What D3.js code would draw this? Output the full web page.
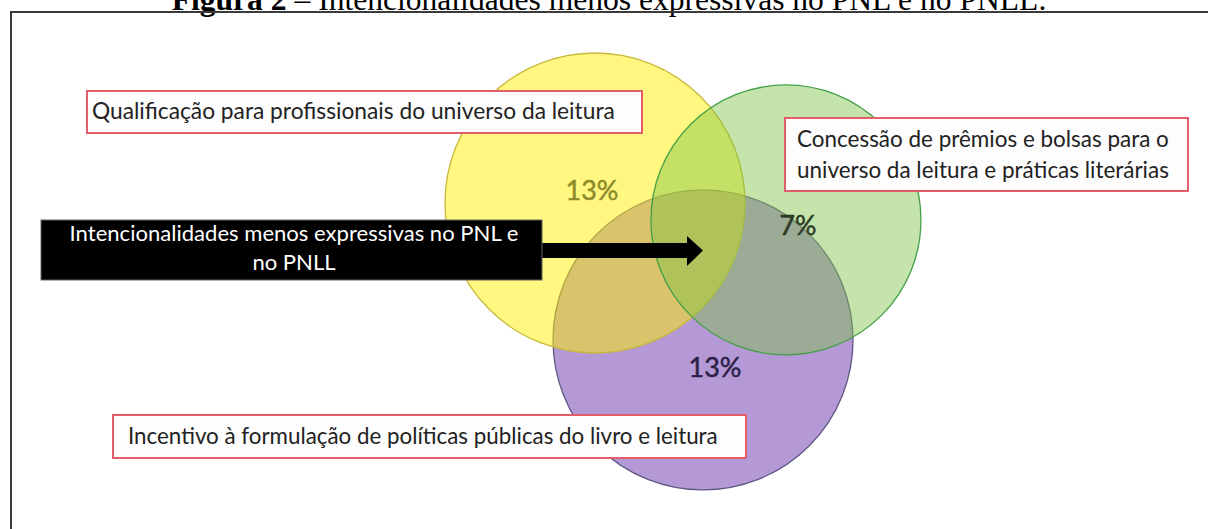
<!DOCTYPE html>
<html>
<head>
<meta charset="utf-8">
<script src="https://cdn.jsdelivr.net/npm/d3@7"></script>
<style>
  body { margin: 0; background: #fff; }
  svg { display: block; }
</style>
</head>
<body>
<svg id="chart"></svg>
<script>
// ---- data ----
var titleParts = ["Figura 2", " – Intencionalidades menos expressivas no PNL e no PNLL."];
var setNames = ["Qualificação para profissionais do universo da leitura",
                "Concessão de prêmios e bolsas para o universo da leitura e práticas literárias",
                "Incentivo à formulação de políticas públicas do livro e leitura"];
var setLines = [["Qualificação para profissionais do universo da leitura"],
                ["Concessão de prêmios e bolsas para o", "universo da leitura e práticas literárias"],
                ["Incentivo à formulação de políticas públicas do livro e leitura"]];
var shares = [13, 7, 13];
var arrowLines = ["Intencionalidades menos expressivas no PNL e", "no PNLL"];

// ---- layout (venn units, 1 = radius of the first circle) ----
var width = 1208, height = 529;
var circles = [
  {cx: 0,    cy: 0,    r: 1,   fill: "#fff000", op: 0.5,  stroke: "#c8b93c", labelDx: -0.02, labelDy: -0.02, labelColor: "#8e8b2c"},
  {cx: 1.273, cy: 0.113, r: 0.9, fill: "#7cc446", op: 0.45, stroke: "#43a047", labelDx: 0.08, labelDy: 0.1, labelColor: "#2c3a24"},
  {cx: 0.72, cy: 0.913, r: 1,   fill: "#b598d6", op: 1,    stroke: "#5e5984", labelDx: 0.08, labelDy: 0.247, labelColor: "#2b2146"}
];
circles.forEach(function(c, i) { c.name = setNames[i]; c.share = shares[i]; });

var boxes = [
  {x0: 87,  x1: 642,  y0: 91,  y1: 133, tx: 92,  base: 119, gap: 0,  fitW: 523},
  {x0: 785, x1: 1188, y0: 118, y1: 191, tx: 797, base: 147, gap: 31, fitW: 372},
  {x0: 113, x1: 746,  y0: 415, y1: 458, tx: 128, base: 444, gap: 0,  fitW: 590}
];

var x = d3.scaleLinear().domain([0, 1]).range([595, 745]);
var y = d3.scaleLinear().domain([0, 1]).range([203, 353]);
var k = x(1) - x(0);

var svg = d3.select("#chart")
            .attr("width", width)
            .attr("height", height);

// scale a text's font so it spans the wanted width
function fit(sel, target) {
  var w = sel.node().getComputedTextLength();
  var fs = parseFloat(sel.attr("font-size"));
  sel.attr("font-size", fs * target / w);
}

// title (cut by the top edge, as in the source)
var title = svg.append("text")
   .attr("x", 609)
   .attr("y", 10)
   .attr("text-anchor", "middle")
   .attr("font-family", "Liberation Serif, Times New Roman, serif")
   .attr("font-size", 28)
   .attr("fill", "#000");
title.selectAll("tspan")
   .data(titleParts)
   .enter()
   .append("tspan")
   .attr("font-weight", function(d, i) { return i == 0 ? "bold" : "normal"; })
   .text(function(d) { return d; });
fit(title, 875);

// frame
svg.append("path")
   .attr("d", "M" + width + ",12H11V" + height)
   .attr("fill", "none")
   .attr("stroke", "#3a3a3a")
   .attr("stroke-width", 2);

// circles: purple first, then yellow, then green on top
var order = [2, 0, 1];
svg.selectAll("circle.set")
   .data(order.map(function(i) { return circles[i]; }))
   .enter()
   .append("circle")
   .attr("class", "set")
   .attr("cx", function(d) { return x(d.cx); })
   .attr("cy", function(d) { return y(d.cy); })
   .attr("r", function(d) { return d.r * k; })
   .attr("fill", function(d) { return d.fill; })
   .attr("fill-opacity", function(d) { return d.op; })
   .attr("stroke", function(d) { return d.stroke; })
   .attr("stroke-width", 1.3);

// percentages
svg.selectAll("text.share")
   .data(circles)
   .enter()
   .append("text")
   .attr("class", "share")
   .attr("x", function(d) { return x(d.cx + d.labelDx); })
   .attr("y", function(d) { return y(d.cy + d.labelDy); })
   .attr("text-anchor", "middle")
   .attr("font-family", "Lato, sans-serif")
   .attr("font-size", 26)
   .attr("fill", function(d) { return d.labelColor; })
   .attr("stroke", function(d) { return d.labelColor; })
   .attr("stroke-width", 0.5)
   .text(function(d) { return d.share + "%"; })
   .each(function(d) {
     fit(d3.select(this), String(d.share).length > 1 ? 53 : 37);
   });

// label boxes
boxes.forEach(function(b, i) {
  svg.append("rect")
     .attr("x", b.x0)
     .attr("y", b.y0)
     .attr("width", b.x1 - b.x0)
     .attr("height", b.y1 - b.y0)
     .attr("fill", "#fdfdfd")
     .attr("stroke", "#e25e6b")
     .attr("stroke-width", 2);
  var texts = setLines[i].map(function(line, j) {
    return svg.append("text")
       .attr("x", b.tx)
       .attr("y", b.base + j * b.gap)
       .attr("font-family", "Lato, sans-serif")
       .attr("font-size", 20)
       .attr("fill", "#222")
       .text(line);
  });
  var last = texts[texts.length - 1];
  fit(last, b.fitW);
  texts.forEach(function(t) { t.attr("font-size", last.attr("font-size")); });
});

// arrow box
svg.append("path")
   .attr("d", "M542,243H687V236L703,250.5L687,266V258H542Z")
   .attr("fill", "#000");
svg.append("rect")
   .attr("x", 41)
   .attr("y", 220)
   .attr("width", 501)
   .attr("height", 60)
   .attr("fill", "#000")
   .attr("stroke", "#666")
   .attr("stroke-width", 1);
var aTexts = arrowLines.map(function(line, j) {
  return svg.append("text")
     .attr("x", 294)
     .attr("y", 241 + j * 29)
     .attr("text-anchor", "middle")
     .attr("font-family", "Lato, sans-serif")
     .attr("font-size", 20)
     .attr("fill", "#fff")
     .text(line);
});
fit(aTexts[0], 449);
aTexts[1].attr("font-size", aTexts[0].attr("font-size"));
</script>
</body>
</html>
